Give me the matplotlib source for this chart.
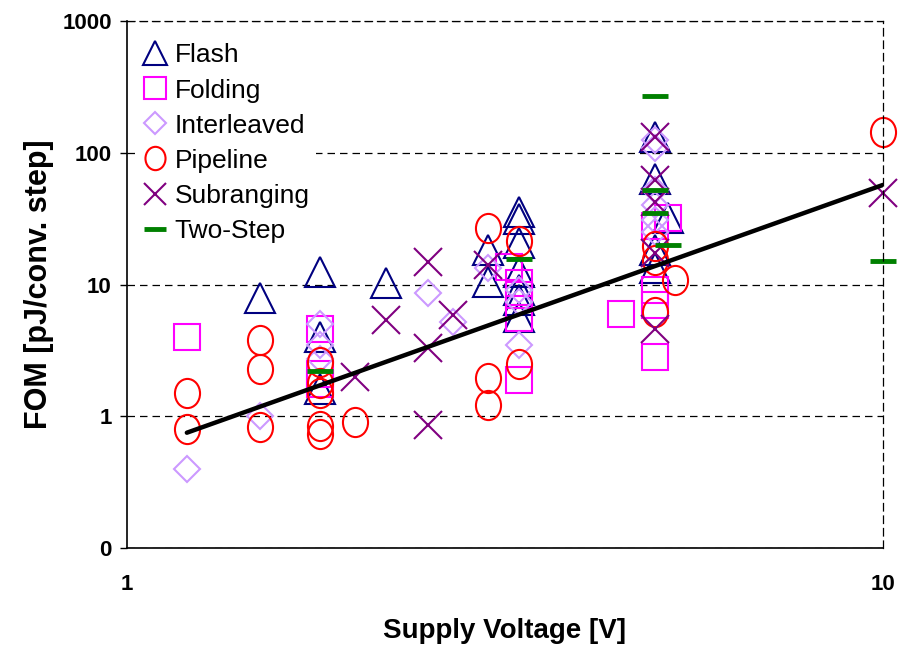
import matplotlib
matplotlib.use('Agg')
import matplotlib.pyplot as plt
import numpy as np
from matplotlib.path import Path
from matplotlib.transforms import Affine2D

plt.rcParams['font.family'] = ['Liberation Sans', 'DejaVu Sans']

# supply voltage [V] and FOM [pJ/conv. step] per ADC architecture
flash_v = [1.5, 1.8, 1.8, 1.8, 2.2, 3.0, 3.0, 3.3, 3.3, 3.3, 3.3, 3.3, 3.3, 3.3, 5.0, 5.0, 5.2, 5.0, 5.0]
flash_fom = [7.9, 12.4, 4.0, 1.6, 10.3, 18.3, 10.4, 35.5, 31.4, 20.7, 12.4, 9.1, 7.6, 5.7, 132, 63, 32, 18.3, 13.3]

folding_v = [1.2, 1.8, 1.8, 1.8, 3.2, 3.3, 3.3, 3.3, 3.3, 4.5, 5.0, 5.0, 5.0, 5.0, 5.2]
folding_fom = [4.0, 4.6, 2.1, 1.75, 13.6, 10.3, 8.3, 5.6, 1.9, 6.0, 27.8, 9.1, 7.0, 2.8, 32]

interleaved_v = [1.2, 1.5, 1.8, 1.8, 1.8, 2.5, 2.7, 3.0, 3.3, 3.3, 3.3, 5.0, 5.0, 5.0, 5.0, 5.0, 5.0]
interleaved_fom = [0.4, 1.0, 5.0, 3.5, 2.7, 8.6, 5.2, 13.3, 9.1, 7.4, 3.5, 125, 109, 52, 40, 31, 25]

pipeline_v = [1.2, 1.2, 1.5, 1.5, 1.5, 1.8, 1.8, 1.8, 1.8, 1.8, 2.0, 3.0, 3.0, 3.0, 3.3, 3.3, 5.0, 5.0, 5.0, 5.3, 10]
pipeline_fom = [1.5, 0.8, 3.8, 2.3, 0.83, 2.6, 1.8, 1.5, 0.84, 0.73, 0.9, 26.8, 1.95, 1.22, 21.4, 2.5, 19.6, 15.3, 6.2, 10.8, 143]

subranging_v = [2.0, 2.2, 2.5, 2.5, 2.5, 2.7, 3.0, 5.0, 5.0, 5.0, 5.0, 5.0, 10]
subranging_fom = [2.0, 5.4, 14.8, 3.3, 0.86, 5.9, 14.1, 132, 62, 42, 17.3, 4.6, 49.5]

twostep_v = [1.8, 3.3, 5.0, 5.0, 5.0, 5.2, 10]
twostep_fom = [2.2, 15.6, 270, 52, 35, 20, 15.1]

# power-law trend line end points
trend_v = [1.2, 10]
trend_fom = [0.75, 57]

ytick_vals = [0.1, 1, 10, 100, 1000]
ytick_labels = ['0', '1', '10', '100', '1000']
xtick_vals = [1, 10]
xtick_labels = ['1', '10']

# slightly narrow ellipse for the pipeline markers
ellipse = Path.unit_circle().transformed(Affine2D().scale(0.86, 1.0))

fig = plt.figure(figsize=(9.07, 6.48), dpi=100)
ax = fig.add_axes([0.140, 0.1543, 0.8335, 0.8133])

mk = dict(linestyle='none', markerfacecolor='none', markeredgewidth=1.5, clip_on=False)
ax.plot(flash_v, flash_fom, marker='^', markersize=21, markeredgecolor='#000080', label='Flash', **mk)
ax.plot(folding_v, folding_fom, marker='s', markersize=19, markeredgecolor='#FF00FF', label='Folding', **mk)
ax.plot(interleaved_v, interleaved_fom, marker='D', markersize=13.5, markeredgecolor='#CC99FF', label='Interleaved', **mk)
ax.plot(pipeline_v, pipeline_fom, marker=ellipse, markersize=21, markeredgecolor='#FF0000', label='Pipeline', **mk)
ax.plot(subranging_v, subranging_fom, marker='x', markersize=20, markeredgecolor='#800080', label='Subranging', **mk)
ax.plot(twostep_v, twostep_fom, marker='_', markersize=19, markeredgewidth=3.5, markeredgecolor='#008000',
        linestyle='none', clip_on=False, label='Two-Step')

ax.plot(trend_v, trend_fom, color='black', linewidth=3.2, solid_capstyle='round')

ax.set_xscale('log')
ax.set_yscale('log')
ax.set_xlim(1, 10)
ax.set_ylim(0.1, 1000)
ax.set_xticks(xtick_vals, xtick_labels)
ax.set_yticks(ytick_vals, ytick_labels)
ax.minorticks_off()
ax.tick_params(axis='y', direction='out', length=5, width=1, pad=6, labelsize=16)
ax.tick_params(axis='x', length=0, pad=19, labelsize=16)
for lbl in ax.get_xticklabels() + ax.get_yticklabels():
    lbl.set_fontweight('bold')

dash = (0, (6, 4))
ax.yaxis.grid(True, which='major', color='black', linestyle=dash, linewidth=0.9)
ax.set_axisbelow(True)
ax.spines['top'].set_linestyle(dash)
ax.spines['top'].set_linewidth(0.9)
ax.spines['right'].set_linestyle(dash)
ax.spines['right'].set_linewidth(0.9)
ax.spines['left'].set_linewidth(1.2)
ax.spines['bottom'].set_linewidth(1.2)

ax.set_xlabel('Supply Voltage [V]', fontsize=20, fontweight='bold', va='center')
ax.xaxis.set_label_coords(0.5, -0.157)
ax.set_ylabel('FOM [pJ/conv. step]', fontsize=22, fontweight='bold', va='center')
ax.yaxis.set_label_coords(-0.117, 0.5)

leg = ax.legend(loc='upper left', bbox_to_anchor=(-0.007, 1.0), fontsize=19, frameon=True,
                handlelength=0.8, handletextpad=0.35, labelspacing=0.42, borderpad=0.25,
                borderaxespad=0.6, markerscale=0.8)
leg.get_frame().set_facecolor('white')
leg.get_frame().set_edgecolor('none')
leg.get_frame().set_alpha(1)

fig.savefig('out.png', dpi=100)
